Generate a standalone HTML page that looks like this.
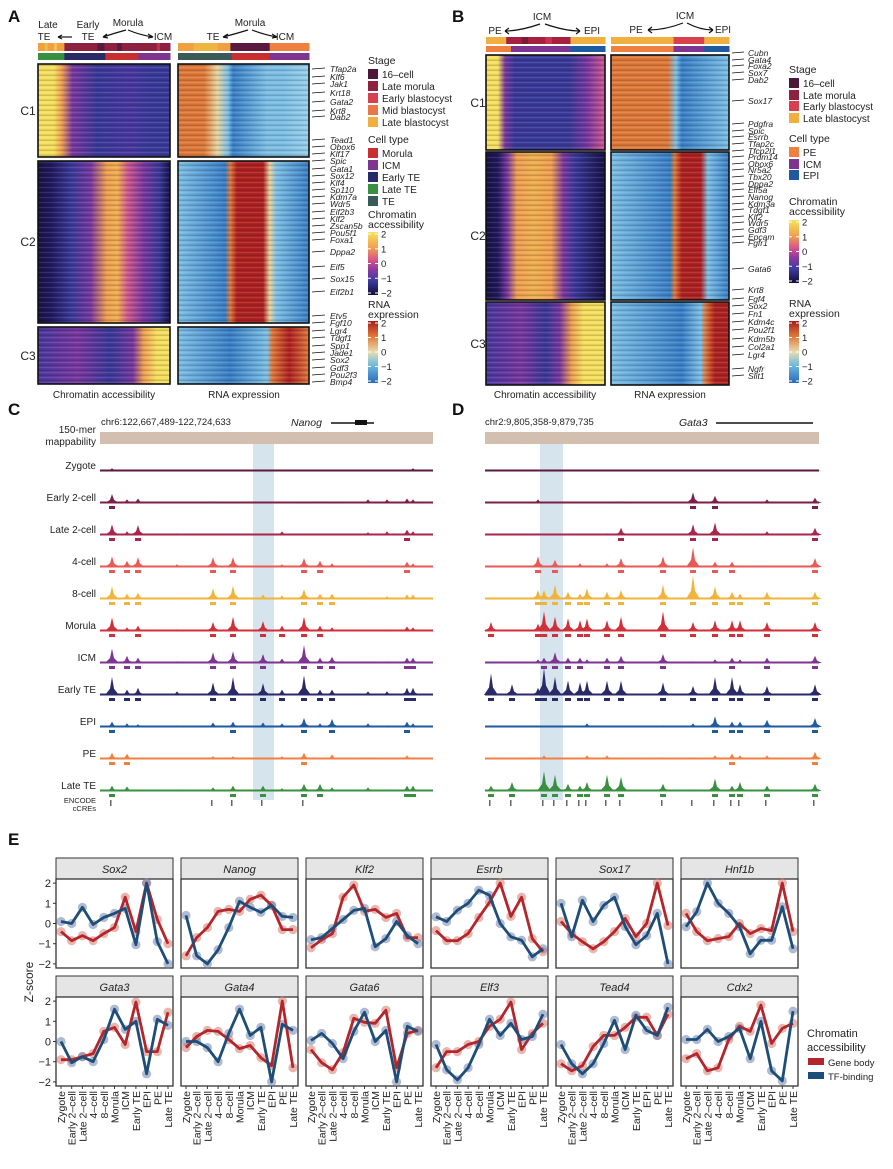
<!DOCTYPE html>
<html><head><meta charset="utf-8">
<style>
body{margin:0;background:#fff;}
svg{display:block;font-family:"Liberation Sans",sans-serif;}
.it{font-style:italic}
</style></head>
<body>
<svg id="fig" width="893" height="1169" viewBox="0 0 893 1169" xmlns="http://www.w3.org/2000/svg">
<defs>
<linearGradient id="chromBar" x1="0" y1="0" x2="0" y2="1"><stop offset="0" stop-color="#f7e35a"/><stop offset=".25" stop-color="#f0a050"/><stop offset=".45" stop-color="#d8508a"/><stop offset=".6" stop-color="#8a3aa0"/><stop offset=".78" stop-color="#3a3aa0"/><stop offset="1" stop-color="#140c38"/></linearGradient>
<linearGradient id="rnaBar" x1="0" y1="0" x2="0" y2="1"><stop offset="0" stop-color="#a81c1c"/><stop offset=".25" stop-color="#e07a3a"/><stop offset=".5" stop-color="#e8dcb0"/><stop offset=".72" stop-color="#6ab8e0"/><stop offset="1" stop-color="#2a6ab8"/></linearGradient>
<pattern id="stripes" width="4" height="5" patternUnits="userSpaceOnUse"><rect width="4" height="1" fill="rgba(0,0,0,0.16)"/><rect y="2" width="4" height="1" fill="rgba(255,255,255,0.10)"/><rect y="4" width="4" height="1" fill="rgba(0,0,0,0.08)"/></pattern>
</defs>
<g id="root"></g>
</svg>
<script>
// ===== Panel E data =====
const stages = ["Zygote","Early 2\u2013cell","Late 2\u2013cell","4\u2013cell","8\u2013cell","Morula","ICM","Early TE","EPI","PE","Late TE"];
const genes = ["Sox2","Nanog","Klf2","Esrrb","Sox17","Hnf1b","Gata3","Gata4","Gata6","Elf3","Tead4","Cdx2"];
const geneBody = [
 [-0.4,-0.85,-0.6,-0.85,-0.5,-0.2,1.3,-0.4,2.0,0.2,-1.0],
 [-1.6,-0.7,-0.2,0.6,0.7,0.6,1.2,1.4,0.9,-0.3,-0.3],
 [-1.2,-0.8,-0.5,1.3,1.9,0.6,0.7,0.3,0.5,-0.7,-0.7],
 [-0.35,-0.85,-0.85,-0.5,0.3,1.05,2.0,0.35,1.3,-0.75,-1.4],
 [0.1,-0.5,-0.9,-1.25,-0.9,-0.4,0.25,-0.65,0.0,2.0,-0.1],
 [0.5,-0.4,-0.85,-0.75,-0.65,0.0,-0.5,-0.25,-0.35,2.0,-0.4],
 [-0.9,-0.9,-0.75,-0.6,0.5,0.7,-0.15,1.95,-0.5,-0.5,1.45],
 [-0.3,0.25,0.55,0.5,0.1,-0.35,-0.2,-0.8,-1.2,2.0,-1.3],
 [-0.4,-1.05,-1.4,-0.55,1.15,0.95,0.9,1.55,-1.3,0.4,0.55],
 [-1.3,-0.5,-0.5,-0.15,0.0,0.75,1.1,1.95,-0.4,0.4,0.9],
 [-1.1,-1.45,-1.2,-0.25,0.3,0.3,0.7,1.2,1.2,0.3,1.35],
 [-0.85,-0.6,-1.45,-1.3,0.1,0.75,0.5,1.8,-0.1,0.65,0.9]
];
const tfBinding = [
 [0.1,0.0,0.8,-0.05,0.3,0.5,0.75,-1.05,2.0,-0.9,-2.0],
 [0.4,-1.6,-2.0,-1.3,-0.2,1.1,0.8,0.55,0.9,0.35,0.3],
 [-0.8,-0.7,-0.25,0.2,0.65,0.75,-1.15,-0.75,0.1,-0.6,-1.0],
 [0.33,0.1,0.66,1.0,1.65,1.4,0.0,-0.66,-0.83,-1.65,-1.25],
 [1.0,-0.66,1.15,0.1,0.9,1.3,-0.15,-1.05,-0.6,0.5,-2.0],
 [-0.16,0.58,2.0,1.0,0.5,-0.16,-1.5,-0.83,-0.83,0.83,-1.25],
 [0.0,-1.05,-0.75,-1.0,0.1,1.6,0.6,1.0,-1.6,1.1,0.8],
 [0.0,0.0,-0.3,-1.0,0.4,1.6,0.3,0.7,-2.0,0.85,0.55],
 [0.05,0.4,-0.1,-0.85,0.5,1.45,0.0,0.55,-2.0,0.75,0.5],
 [-0.15,-1.4,-1.9,-1.3,-0.15,1.1,0.3,0.9,0.1,0.25,1.35],
 [-0.15,-1.1,-1.6,-1.1,-0.1,1.05,-0.4,1.3,0.55,0.3,1.7],
 [0.1,0.1,0.6,0.0,0.25,0.65,-0.85,1.0,-1.45,-1.95,1.5]
];
const yTicks = [2,1,0,-1,-2];

// ===== Panel C/D track data =====
const trackNames = ["Zygote","Early 2-cell","Late 2-cell","4-cell","8-cell","Morula","ICM","Early TE","EPI","PE","Late TE"];
const trackColors = ["#5a1a40","#7d1f48","#a8264c","#e85a55","#f0b43a","#d0303a","#7d3590","#2a2a68","#1f5aa0","#f08040","#3a9040"];
const peaksC = [112,127,138,177,213,233,263,282,304,320,332,368,387,407,413];
const heightsC = [
 [.15,0,0,0,0,0,0,0,0,0,0,0,0,.05,.15],
 [.5,.2,.25,0,.1,.05,.05,0,.05,.1,.05,.2,.2,.25,.2],
 [.6,.2,.55,.1,.05,.05,.05,.2,.1,.1,.05,.15,.2,.3,.2],
 [.6,.35,.55,.15,.55,.55,.1,.15,.5,.35,.2,.1,.1,.3,.2],
 [.7,.3,.35,.1,.6,.75,.25,.2,.55,.3,.3,.1,.15,.25,.25],
 [.75,.2,.3,.1,.5,.8,.55,.3,.8,.3,.2,.1,.1,.25,.2],
 [.8,.4,.3,.1,.6,.65,.5,.25,1.0,.3,.35,.1,.1,.3,.3],
 [1.0,.3,.4,.2,.7,1.0,.65,.3,1.1,.3,.3,.2,.2,.4,.4],
 [.3,.2,.15,.1,.25,.3,.25,.2,.5,.2,.45,.2,.1,.3,.2],
 [.35,.3,.05,.05,.15,.15,.1,.15,.35,.05,.25,.1,.05,.2,.1],
 [.3,.25,.1,.1,.2,.3,.3,.15,.4,.4,.2,.2,.1,.3,.3]
];
const peaksD = [491,512,538,544,555,568,580,587,607,621,663,693,715,732,740,767,815];
const heightsD = [
 [0,0,.08,0,0,0,.08,.08,0,.08,.08,0,0,0,0,.05,.05],
 [0,0,.2,0,0,0,0,0,0,.1,0,.6,.4,0,0,.2,.3],
 [0,0,.1,0,0,0,0,0,.1,.4,0,.6,.7,.1,.1,.2,.4],
 [0,0,.6,0,.4,0,.2,0,.2,.5,.6,1.1,.3,.3,0,.1,.5],
 [0,0,.5,.5,.8,.4,.3,.6,.4,.5,.8,1.3,.7,.4,.3,.4,.4],
 [.5,0,.4,1.1,.8,.7,.6,.7,.6,.8,1.1,.5,.6,.6,.6,.5,.5],
 [0,0,.2,.3,.6,.3,.3,.2,.3,.4,.5,.1,.2,.3,.2,.3,.4],
 [1.2,.6,.4,1.5,1.0,.8,.7,.8,.8,.8,.7,.5,1.0,1.0,.6,.5,.6],
 [0,0,0,0,0,0,0,.2,0,0,.1,.2,.6,.3,.3,.4,.5],
 [0,0,.1,.2,.1,0,0,.2,.2,0,.1,.1,.2,.3,.2,.2,.4],
 [.3,.5,.1,1.1,.9,.4,.3,.5,.9,.8,.4,.1,.7,.3,.5,.3,.4]
];

const NS="http://www.w3.org/2000/svg";
const root=document.getElementById('root');
function el(tag,attrs,parent,text){const e=document.createElementNS(NS,tag);for(const k in attrs)e.setAttribute(k,attrs[k]);if(text!==undefined)e.textContent=text;(parent||root).appendChild(e);return e;}
function txt(x,y,s,size,opts,parent){const o=Object.assign({x:x,y:y,'font-size':size,fill:'#222'},opts||{});return el('text',o,parent,s);}

// ===== Panel letters =====
[["A",8,22],["B",452,22],["C",8,415],["D",452,415],["E",8,845]].forEach(function(p){
  const t=txt(p[1],p[2],p[0],17,{'font-weight':'bold',fill:'#111'});
  
  
});

// ===== Heatmaps =====
function grad(id,stops,dir){const defs=document.querySelector('defs');const g=el('linearGradient',{id:id,x1:0,y1:0,x2:dir==='v'?0:1,y2:dir==='v'?1:0},defs);stops.forEach(function(s){el('stop',{offset:s[0],'stop-color':s[1]},g);});return 'url(#'+id+')';}
function heat(name,x,y,w,h,stops){
  const g=el('g',{});
  
  
  el('rect',{x:x,y:y,width:w,height:h,fill:grad(name+'-g',stops)},g);
  el('rect',{x:x,y:y,width:w,height:h,fill:'url(#stripes)'},g);
  el('rect',{x:x,y:y,width:w,height:h,fill:'none',stroke:'#111','stroke-width':1.6},g);
}
const Y='#f6e060',O='#f0a050',P='#d05890',U='#7a38a0',B='#3a3a9a',N='#1a1248';
const R1='#b02222',R2='#e07a3a',BE='#e8d4a0',LB='#7ec0e6',DB='#3a80c8';
// Panel A
heat('a-chrom-c1',38,64,132,93,[[0,Y],[.12,Y],[.18,O],[.26,U],[.45,B],[.7,'#4a38a0'],[.85,B],[1,B]]);
heat('a-chrom-c2',38,161,132,162,[[0,N],[.1,'#221a60'],[.25,B],[.4,U],[.52,O],[.6,'#f0b050'],[.68,P],[.8,U],[.92,B],[1,N]]);
heat('a-chrom-c3',38,327,132,57,[[0,'#4a38a0'],[.3,U],[.55,B],[.72,U],[.8,O],[.9,Y],[1,Y]]);
heat('a-rna-c1',178,64,131,93,[[0,R2],[.2,R2],[.3,BE],[.38,LB],[.42,DB],[.68,LB],[.8,LB],[1,'#9ad0ec']]);
heat('a-rna-c2',178,161,131,162,[[0,LB],[.36,DB],[.4,R2],[.45,R1],[.65,R1],[.7,BE],[.75,LB],[1,DB]]);
heat('a-rna-c3',178,327,131,57,[[0,LB],[.4,DB],[.68,LB],[.72,R2],[.85,R1],[1,R2]]);
// Panel B
heat('b-chrom-c1',486,55,119,95,[[0,Y],[.1,Y],[.16,U],[.24,B],[.7,B],[.85,U],[1,P]]);
heat('b-chrom-c2',486,152,119,148,[[0,N],[.1,'#221a60'],[.18,U],[.26,O],[.4,'#f0b050'],[.55,O],[.65,U],[.75,B],[1,N]]);
heat('b-chrom-c3',486,302,119,83,[[0,'#4a38a0'],[.3,U],[.5,B],[.62,U],[.72,O],[.82,Y],[1,Y]]);
heat('b-rna-c1',611,55,118,95,[[0,R2],[.48,R2],[.55,LB],[.6,DB],[1,LB]]);
heat('b-rna-c2',611,152,118,148,[[0,LB],[.5,DB],[.54,R2],[.6,R1],[.76,R1],[.82,LB],[1,DB]]);
heat('b-rna-c3',611,302,118,83,[[0,LB],[.6,DB],[.76,LB],[.8,R2],[.88,R1],[1,R1]]);

// cluster labels
[["C1",28,115],["C2",28,246],["C3",28,360],["C1",478,107],["C2",478,240],["C3",478,348]].forEach(function(c){
  const t=txt(c[1],c[2],c[0],12,{'text-anchor':'middle'});
  
  
});
[["Chromatin accessibility",104,398],["RNA expression",244,398],["Chromatin accessibility",545,398],["RNA expression",670,398]].forEach(function(c){
  const t=txt(c[1],c[2],c[0],10,{'text-anchor':'middle'});
  
  
});

// annotation bars
function bar(name,x,y,w,h,segs){const g=el('g',{});
  segs.forEach(function(s){el('rect',{x:x+s[0]*w,y:y,width:(s[1]-s[0])*w+0.5,height:h,fill:s[2]},g);});}
bar('a-chrom-stage-bar',38,43,132,8,[[0,.2,'#f0a040'],[.05,.07,'#e8c040'],[.12,.14,'#f0c050'],[.2,1,'#8e2040'],[.45,.5,'#5a1a40'],[.6,.63,'#5a1a40'],[.9,.92,'#c03048']]);
bar('a-chrom-celltype-bar',38,53,132,7,[[0,.2,'#3a9040'],[.2,.51,'#2a2a68'],[.51,.76,'#c83030'],[.76,1,'#7d3590']]);
bar('a-rna-stage-bar',178,43,131,8,[[0,.4,'#f0a040'],[.12,.3,'#f0b440'],[.4,.7,'#5a1a40'],[.7,1,'#f08040']]);
bar('a-rna-celltype-bar',178,53,131,7,[[0,.41,'#3a5a58'],[.41,.7,'#c83030'],[.7,1,'#7d3590']]);
bar('b-chrom-stage-bar',486,37,119,7,[[0,.17,'#f0b040'],[.17,.71,'#a82040'],[.3,.35,'#7a1a38'],[.5,.55,'#c83050'],[.71,1,'#f0b040']]);
bar('b-chrom-celltype-bar',486,46,119,6,[[0,.21,'#f08040'],[.21,.71,'#7d3590'],[.71,1,'#1f5aa0']]);
bar('b-rna-stage-bar',611,37,118,7,[[0,.53,'#f0b040'],[.53,.79,'#d84050'],[.79,1,'#f0b040']]);
bar('b-rna-celltype-bar',611,46,118,6,[[0,.53,'#f08040'],[.53,.79,'#7d3590'],[.79,1,'#1f5aa0']]);

// header annotations
function ann(list){list.forEach(function(a){const t=txt(a[1],a[2],a[0],10,{'text-anchor':'middle'});});}
ann([["Late",48,28],["TE",44,40],["Early",88,28],["TE",88,40],["Morula",128,26],["ICM",163,40],["Morula",250,26],["TE",213,40],["ICM",285,40],
     ["ICM",542,20],["PE",495,34],["EPI",592,34],["ICM",685,19],["PE",636,33],["EPI",723,33]]);
function arrows(paths){const g=el('g',{fill:'none',stroke:'#111','stroke-width':1.2});paths.forEach(function(d){el('path',{d:d},g);});}
arrows(["M72 37 L58 37","M58 37 l4 -2 M58 37 l4 2",
 "M126 30 Q115 33 103 37 M103 37 l4 -3 M103 37 l5 1","M128 30 Q140 35 153 37 M153 37 l-5 -3 M153 37 l-5 1",
 "M248 30 Q235 34 223 37 M223 37 l5 -3 M223 37 l5 1","M252 30 Q265 35 277 37 M277 37 l-5 -3 M277 37 l-5 1",
 "M540 24 Q520 31 505 31 M505 31 l4 -3 M505 31 l4 3","M545 24 Q565 31 580 31 M580 31 l-4 -3 M580 31 l-4 3",
 "M683 23 Q665 30 648 30 M648 30 l4 -3 M648 30 l4 3","M687 23 Q700 30 713 30 M713 30 l-4 -3 M713 30 l-4 3"]);

// gene labels
function genesList(x0,x1,tx,list,name){const g=el('g',{});
  list.forEach(function(a){el('line',{x1:x0,y1:a[1],x2:x1,y2:a[1]-1,stroke:'#111','stroke-width':0.8},g);txt(tx,a[1]+3,a[0],8.5,{'font-style':'italic'},g);});}
genesList(312,325,330,[["Tfap2a",69],["Klf6",77],["Jak1",84],["Krt18",93],["Gata2",102],["Krt8",111],["Dab2",117],["Tead1",140],["Obox6",147],["Klf17",154],["Spic",161],["Gata1",169],["Sox12",176],["Klf4",183],["Sp110",190],["Kdm7a",197],["Wdr5",204],["Eif2b3",212],["Klf2",219],["Zscan5b",226],["Pou5f1",233],["Foxa1",240],["Dppa2",252],["Eif5",267],["Sox15",279],["Eif2b1",292],["Etv5",316],["Fgf10",323],["Lgr4",331],["Tdgf1",338],["Spp1",346],["Jade1",353],["Sox2",360],["Gdf3",368],["Pou2f3",375],["Bmp4",382]],'a-gene-labels');
genesList(732,744,748,[["Cubn",53],["Gata4",60],["Foxa2",66],["Sox7",73],["Dab2",80],["Sox17",101],["Pdgfra",124],["Spic",131],["Esrrb",137],["Tfap2c",144],["Tfcp2l1",151],["Prdm14",157],["Obox6",164],["Nr5a2",170],["Tbx20",177],["Dppa2",184],["Elf5a",190],["Nanog",197],["Kdm3a",204],["Tdgf1",210],["Klf2",217],["Wdr5",223],["Gdf3",230],["Epcam",237],["Fgfr1",243],["Gata6",269],["Krt8",290],["Fgf4",299],["Sox2",306],["Fn1",314],["Kdm4c",322],["Pou2f1",330],["Kdm5b",339],["Col2a1",347],["Lgr4",355],["Ngfr",369],["Slit1",376]],'b-gene-labels');

// legends
function legend(x,items,name){const g=el('g',{});
  items.forEach(function(it){
    if(it.t==='h'){txt(x,it.y,it.s,10.5,{},g);}
    else if(it.t==='s'){el('rect',{x:x,y:it.y-9,width:10,height:10,fill:it.c},g);txt(x+14,it.y,it.s,10,{},g);}
    else if(it.t==='c'){el('rect',{x:x,y:it.y,width:10,height:it.h,fill:it.f},g);
      ["2","1","0","\u22121","\u22122"].forEach(function(l,i){const yy=it.y+2+i*(it.h-4)/4;el('line',{x1:x,x2:x+3,y1:yy,y2:yy,stroke:'#fff'},g);el('line',{x1:x+7,x2:x+10,y1:yy,y2:yy,stroke:'#fff'},g);txt(x+13,yy+3.5,l,9.5,{},g);});}
  });}
legend(368,[{t:'h',s:'Stage',y:64},{t:'s',s:'16\u2013cell',y:78,c:'#4a1838'},{t:'s',s:'Late morula',y:90,c:'#8e2040'},{t:'s',s:'Early blastocyst',y:102,c:'#d84050'},{t:'s',s:'Mid blastocyst',y:114,c:'#e87848'},{t:'s',s:'Late blastocyst',y:126,c:'#f0b040'},
 {t:'h',s:'Cell type',y:143},{t:'s',s:'Morula',y:157,c:'#c83030'},{t:'s',s:'ICM',y:169,c:'#7d3590'},{t:'s',s:'Early TE',y:181,c:'#2a2a68'},{t:'s',s:'Late TE',y:193,c:'#3a9040'},{t:'s',s:'TE',y:205,c:'#3a5a58'},
 {t:'h',s:'Chromatin',y:218},{t:'h',s:'accessibility',y:228},{t:'c',y:232,h:63,f:'url(#chromBar)'},
 {t:'h',s:'RNA',y:308},{t:'h',s:'expression',y:318},{t:'c',y:321,h:62,f:'url(#rnaBar)'}],'a-legend');
legend(789,[{t:'h',s:'Stage',y:73},{t:'s',s:'16\u2013cell',y:87,c:'#4a1838'},{t:'s',s:'Late morula',y:99,c:'#8e2040'},{t:'s',s:'Early blastocyst',y:110,c:'#d84050'},{t:'s',s:'Late blastocyst',y:122,c:'#f0b040'},
 {t:'h',s:'Cell type',y:142},{t:'s',s:'PE',y:156,c:'#f08040'},{t:'s',s:'ICM',y:168,c:'#7d3590'},{t:'s',s:'EPI',y:179,c:'#1f5aa0'},
 {t:'h',s:'Chromatin',y:205},{t:'h',s:'accessibility',y:215},{t:'c',y:220,h:63,f:'url(#chromBar)'},
 {t:'h',s:'RNA',y:307},{t:'h',s:'expression',y:317},{t:'c',y:321,h:62,f:'url(#rnaBar)'}],'b-legend');

// ===== Tracks C/D =====
const base0=471, step=32, unit=18;
function trackPanel(prefix,x0,x1,hl0,hl1,peaks,heights,labels){
  const g=el('g',{});
  const hl=el('rect',{x:hl0,y:444,width:hl1-hl0,height:356,fill:'#d6e4ee'},g);
  
  el('rect',{x:x0,y:432,width:x1-x0,height:12,fill:'#d3bfb0'},g);
  trackNames.forEach(function(nm,i){
    const by=base0+i*step, col=trackColors[i];
    const tg=el('g',{},g);
    
    
    el('rect',{x:x0,y:by-1.5,width:x1-x0,height:2,fill:col},tg);
    peaks.forEach(function(px,j){const h=heights[i][j]*unit;if(h<=0)return;
      el('path',{d:'M'+(px-7)+' '+by+' L'+(px-2)+' '+(by-h*0.35)+' L'+px+' '+(by-h)+' L'+(px+2)+' '+(by-h*0.35)+' L'+(px+7)+' '+by+' Z',fill:col},tg);
      if(heights[i][j]>=0.3) el('rect',{x:px-3,y:by+3,width:6,height:3,fill:col},tg);});
    if(labels){const t=txt(96,by-2,nm,10,{'text-anchor':'end'},g);}
  });
  peaks.forEach(function(px,j){if(heights[7][j]>=0.5) el('rect',{x:px-2,y:800,width:1.5,height:6,fill:'#666'},g);});
}
trackPanel('c',100,433,253,274,peaksC,heightsC,true);
trackPanel('d',485,819,540,563,peaksD,heightsD,false);
txt(101,425,'chr6:122,667,489-122,724,633',9.5);
txt(291,426,'Nanog',10.5,{'font-style':'italic'});
el('line',{x1:331,x2:374,y1:423,y2:423,stroke:'#111','stroke-width':1.5});
el('rect',{x:355,y:420,width:12,height:5,fill:'#111'});
txt(485,425,'chr2:9,805,358-9,879,735',9.5);
txt(679,426,'Gata3',10.5,{'font-style':'italic'});
el('line',{x1:716,x2:813,y1:423,y2:423,stroke:'#111','stroke-width':1.5});
txt(96,433,'150-mer',10,{'text-anchor':'end'});
txt(96,445,'mappability',10,{'text-anchor':'end'});
txt(96,803,'ENCODE',7.5,{'text-anchor':'end'});
txt(96,811,'cCREs',7.5,{'text-anchor':'end'});

// ===== Panel E =====
const colX=[56,181,306,431,556,681], pw=117;
const rows=[{strip:858,top:879,bot:968,cy:923.5},{strip:976,top:997,bot:1086,cy:1041.5}];
const yScale=20.2;
function xPos(c,i){return colX[c]+5+i*(pw-10)/(stages.length-1);}
function yPos(r,v){return rows[r].cy-v*yScale;}
genes.forEach(function(gn,k){
  const r=Math.floor(k/6), c=k%6, R=rows[r];
  const g=el('g',{});
  
  
  el('rect',{x:colX[c],y:R.strip,width:pw,height:R.top-R.strip,fill:'#e5e5e5',stroke:'#333','stroke-width':1},g);
  txt(colX[c]+pw/2,R.strip+15,gn,11,{'text-anchor':'middle','font-style':'italic'},g);
  el('rect',{x:colX[c],y:R.top,width:pw,height:R.bot-R.top,fill:'#fff',stroke:'#333','stroke-width':1.3},g);
  [[geneBody[k],'#b3262c','rgba(214,120,110,0.55)','gene-body'],[tfBinding[k],'#1e4d78','rgba(110,130,175,0.55)','tf-binding']].forEach(function(s){
    s[0].forEach(function(v,i){const p=el('circle',{cx:xPos(c,i),cy:yPos(r,v),r:4.6,fill:s[2]},g);
      
      });
  });
  [[geneBody[k],'#b3262c','gene-body'],[tfBinding[k],'#1e4d78','tf-binding']].forEach(function(s){
    const d=s[0].map(function(v,i){return (i?'L':'M')+xPos(c,i).toFixed(1)+' '+yPos(r,v).toFixed(1);}).join(' ');
    const l=el('path',{d:d,fill:'none',stroke:s[1],'stroke-width':2.8,'stroke-linejoin':'round'},g);
    
    
  });
  if(c===0){yTicks.forEach(function(t){const yy=yPos(r,t);el('line',{x1:colX[0]-3,x2:colX[0],y1:yy,y2:yy,stroke:'#333'},g);
    txt(colX[0]-5,yy+4,t<0?'\u2212'+(-t):String(t),11,{'text-anchor':'end'},g);});}
  if(r===1){stages.forEach(function(s,i){const xx=xPos(c,i);el('line',{x1:xx,x2:xx,y1:R.bot,y2:R.bot+3,stroke:'#333'},g);
    txt(0,0,s,10.5,{'text-anchor':'end',transform:'translate('+(xx+4)+','+(R.bot+5)+') rotate(-90)'},g);});}
});
const zs=txt(0,0,'Z-score',12,{'text-anchor':'middle',transform:'translate(33,982) rotate(-90)'});


const lg=el('g',{});


txt(807,1037,'Chromatin',11,{},lg);
txt(807,1051,'accessibility',11,{},lg);
el('rect',{x:808,y:1058,width:16,height:7,fill:'#b3262c'},lg);
txt(828,1066,'Gene body',9.5,{},lg);
el('rect',{x:808,y:1072,width:16,height:7,fill:'#1e4d78'},lg);
txt(828,1080,'TF-binding',9.5,{},lg);
</script>
</body></html>
